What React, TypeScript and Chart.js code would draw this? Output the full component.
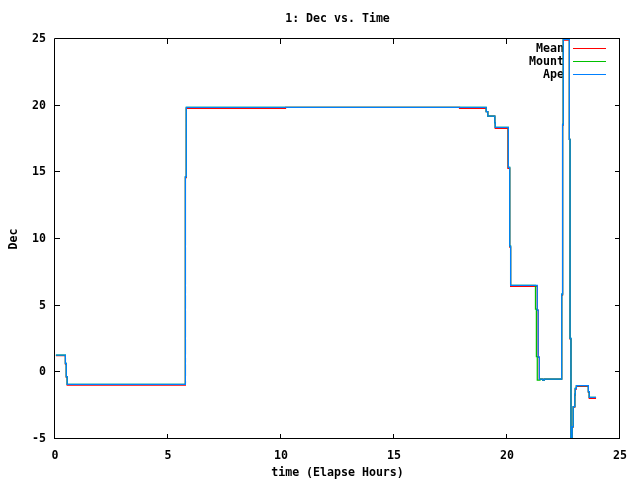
import React, { useEffect, useRef } from 'react';
import { Chart, registerables } from 'chart.js';

Chart.register(...registerables);

const TITLE = '1: Dec vs. Time';
const X_TITLE = 'time (Elapse Hours)';
const Y_TITLE = 'Dec';
const X_TICKS = [0, 5, 10, 15, 20, 25];
const Y_TICKS = [-5, 0, 5, 10, 15, 20, 25];
const SERIES_NAMES = ['Mean', 'Mount', 'Ape'];
const SERIES_COLORS = ['#ff0000', '#00c000', '#0080ff'];

// Step series: each value holds from its time until the next time.
const meanTime = [0.04, 0.46, 0.5, 0.54, 5.77, 5.81, 10.2, 17.9, 19.08, 19.15, 19.46, 19.48, 20.04, 20.12, 20.16, 21.34, 21.38, 21.43, 21.58, 21.65, 22.42, 22.46, 22.49, 22.76, 22.79, 22.83, 22.88, 22.93, 23.0, 23.02, 23.07, 23.6, 23.64, 23.94];
const meanDec = [1.25, 0.62, -0.38, -0.95, 14.6, 19.8, 19.88, 19.8, 19.55, 19.22, 18.72, 18.3, 15.3, 9.4, 6.45, 4.67, 1.15, -0.5, -0.58, -0.5, 5.8, 18.55, 24.92, 17.48, 2.5, -5.0, -4.1, -2.6, -1.7, -1.25, -1.05, -1.5, -1.95, -1.95];

const mountTime = [0.04, 0.46, 0.5, 0.54, 5.77, 5.81, 19.08, 19.15, 19.46, 19.48, 20.06, 20.12, 20.16, 21.26, 21.3, 21.34, 21.46, 21.58, 21.65, 22.42, 22.46, 22.49, 22.76, 22.79, 22.83, 22.88, 22.93, 23.0, 23.02, 23.07, 23.6, 23.64, 23.94];
const mountDec = [1.3, 0.67, -0.33, -0.9, 14.67, 19.88, 19.55, 19.22, 18.72, 18.38, 15.38, 9.47, 6.52, 4.75, 1.17, -0.58, -0.5, -0.58, -0.5, 5.87, 18.6, 24.98, 17.48, 2.55, -4.95, -4.08, -2.58, -1.63, -1.2, -1.0, -1.45, -1.87, -1.87];

const apeTime = [0.04, 0.46, 0.5, 0.54, 5.77, 5.81, 19.08, 19.15, 19.46, 19.48, 20.06, 20.12, 20.16, 21.34, 21.38, 21.43, 21.58, 21.65, 22.42, 22.46, 22.49, 22.76, 22.79, 22.83, 22.88, 22.93, 23.0, 23.02, 23.07, 23.6, 23.64, 23.94];
const apeDec = [1.3, 0.67, -0.33, -0.9, 14.67, 19.88, 19.55, 19.22, 18.72, 18.38, 15.38, 9.47, 6.52, 4.67, 1.15, -0.5, -0.58, -0.5, 5.87, 18.6, 24.98, 17.48, 2.55, -4.95, -4.08, -2.58, -1.63, -1.2, -1.0, -1.45, -1.87, -1.87];

const FONT_FAMILY = '"DejaVu Sans Mono", "Liberation Mono", monospace';
const FONT_SIZE = 11.6;
const FONT = `bold ${FONT_SIZE}px ${FONT_FAMILY}`;

const toPoints = (t: number[], v: number[]) => t.map((x, i) => ({ x, y: v[i] }));

const keyRowY = (top: number, i: number) => top + 9 + i * 13;

const framePlugin = {
  id: 'gnuFrame',
  beforeDatasetsDraw(chart: any) {
    const { ctx, chartArea } = chart;
    const { top, right } = chartArea;
    ctx.save();
    ctx.font = FONT;
    ctx.fillStyle = '#000000';
    ctx.textAlign = 'center';
    ctx.textBaseline = 'middle';
    ctx.fillText(TITLE, (chartArea.left + chartArea.right) / 2, 19);
    ctx.textAlign = 'right';
    SERIES_NAMES.forEach((name, i) => {
      ctx.fillText(name, right - 56, keyRowY(top, i) + 0.5);
    });
    ctx.restore();
  },
  afterDraw(chart: any) {
    const { ctx, chartArea, scales } = chart;
    const { left, right, top, bottom } = chartArea;
    ctx.save();
    // key samples
    SERIES_NAMES.forEach((_, i) => {
      const y = Math.round(keyRowY(top, i));
      ctx.fillStyle = SERIES_COLORS[i];
      ctx.fillRect(right - 47, y, 33, 1);
    });
    // border and inward ticks
    ctx.strokeStyle = '#000000';
    ctx.lineWidth = 1;
    ctx.beginPath();
    ctx.rect(left - 0.5, top - 0.5, right - left, bottom - top);
    ctx.stroke();
    const len = 5;
    ctx.beginPath();
    X_TICKS.forEach((v) => {
      const x = Math.round(scales.x.getPixelForValue(v)) - 0.5;
      ctx.moveTo(x, bottom);
      ctx.lineTo(x, bottom - len);
      ctx.moveTo(x, top);
      ctx.lineTo(x, top + len);
    });
    Y_TICKS.forEach((v) => {
      const y = Math.round(scales.y.getPixelForValue(v)) - 0.5;
      ctx.moveTo(left, y);
      ctx.lineTo(left + len, y);
      ctx.moveTo(right, y);
      ctx.lineTo(right - len, y);
    });
    ctx.stroke();
    ctx.restore();
  },
};

export default function App() {
  const ref = useRef<HTMLCanvasElement | null>(null);

  useEffect(() => {
    if (!ref.current) return;
    const tickFont = { family: FONT_FAMILY, size: FONT_SIZE, weight: 'bold' as const };
    const mk = (name: string, color: string, t: number[], v: number[], order: number) => ({
      label: name,
      data: toPoints(t, v),
      borderColor: color,
      backgroundColor: color,
      borderWidth: 1.25,
      pointRadius: 0,
      stepped: 'before' as const,
      fill: false,
      order,
    });
    const chart = new Chart(ref.current, {
      type: 'line',
      data: {
        datasets: [
          mk(SERIES_NAMES[0], SERIES_COLORS[0], meanTime, meanDec, 3),
          mk(SERIES_NAMES[1], SERIES_COLORS[1], mountTime, mountDec, 2),
          mk(SERIES_NAMES[2], SERIES_COLORS[2], apeTime, apeDec, 1),
        ],
      },
      options: {
        animation: false,
        responsive: false,
        maintainAspectRatio: false,
        layout: { padding: { left: 0, top: 39, right: 20, bottom: 0 } },
        plugins: {
          legend: { display: false },
          title: { display: false },
          tooltip: { enabled: false },
        },
        scales: {
          x: {
            type: 'linear',
            min: 0,
            max: 25,
            afterBuildTicks: (s: any) => {
              s.ticks = X_TICKS.map((value) => ({ value }));
            },
            afterFit: (s: any) => {
              s.height = 41;
            },
            grid: { display: false, drawTicks: false },
            border: { display: false },
            ticks: { font: tickFont, color: '#000', padding: 10, maxRotation: 0 },
            title: {
              display: true,
              text: X_TITLE,
              font: tickFont,
              color: '#000',
              padding: { top: 0, bottom: 0 },
            },
          },
          y: {
            type: 'linear',
            min: -5,
            max: 25,
            afterBuildTicks: (s: any) => {
              s.ticks = Y_TICKS.map((value) => ({ value }));
            },
            afterFit: (s: any) => {
              s.width = 55;
            },
            grid: { display: false, drawTicks: false },
            border: { display: false },
            ticks: { font: tickFont, color: '#000', padding: 9 },
            title: {
              display: true,
              text: Y_TITLE,
              font: tickFont,
              color: '#000',
              padding: { top: 7, bottom: 0 },
            },
          },
        },
      },
      plugins: [framePlugin],
    });
    return () => chart.destroy();
  }, []);

  return (
    <div style={{ position: 'absolute', left: 0, top: 0, width: 640, height: 480, background: '#fff' }}>
      <canvas ref={ref} width={640} height={480} />
    </div>
  );
}
